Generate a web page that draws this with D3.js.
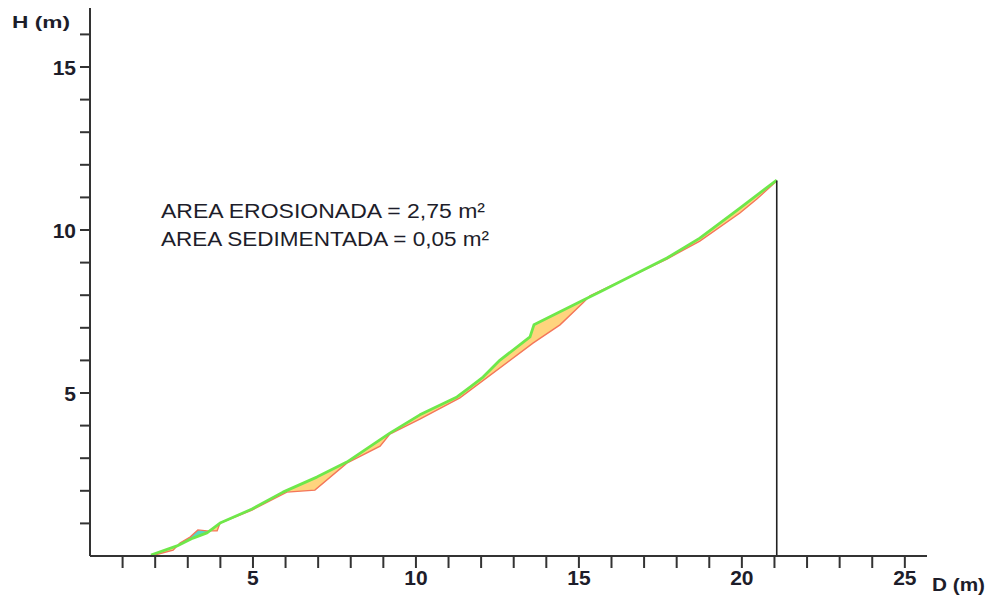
<!DOCTYPE html>
<html>
<head>
<meta charset="utf-8">
<script src="https://cdn.jsdelivr.net/npm/d3@7"></script>
<style>
  html, body { margin: 0; padding: 0; background: #fff; }
  svg { display: block; }
  text { font-family: "Liberation Sans", Arial, sans-serif; }
</style>
</head>
<body>
<svg id="chart" width="993" height="598"></svg>
<script>
// Original terrain profile (green)
const origD = [1.87, 2.67, 3.16, 3.59, 3.99, 4.97, 5.92, 6.96, 7.88, 9.20, 10.12, 11.26, 11.66, 12.06, 12.58, 13.50, 13.62, 15.25, 15.64, 17.70, 18.71, 19.94, 21.07];
const origH = [0.03, 0.31, 0.55, 0.71, 1.01, 1.44, 1.96, 2.42, 2.88, 3.77, 4.33, 4.88, 5.18, 5.49, 6.01, 6.72, 7.09, 7.91, 8.10, 9.14, 9.75, 10.67, 11.53];
// Eroded profile (red)
const erodD = [1.87, 2.55, 2.76, 3.07, 3.31, 3.59, 3.90, 3.99, 4.97, 6.04, 6.90, 7.88, 8.90, 9.20, 10.12, 11.35, 13.59, 14.42, 15.12, 15.34, 17.70, 18.71, 19.94, 20.46, 21.07];
const erodH = [0.00, 0.18, 0.40, 0.58, 0.80, 0.77, 0.77, 1.01, 1.41, 1.96, 2.02, 2.85, 3.37, 3.74, 4.20, 4.85, 6.53, 7.09, 7.76, 7.98, 9.11, 9.66, 10.52, 10.95, 11.50];
const endD = 21.07;
const endH = 11.52;

const xTickValues = [1,2,3,4,5,6,7,8,9,10,11,12,13,14,15,16,17,18,19,20,21,22,23,24,25];
const xTickLabels = [5, 10, 15, 20, 25];
const yTickValues = [1,2,3,4,5,6,7,8,9,10,11,12,13,14,15,16];
const yTickLabels = [5, 10, 15];
const annotation = ["AREA EROSIONADA = 2,75 m²", "AREA SEDIMENTADA = 0,05 m²"];
const annotationWidths = [324, 328];
const xTitle = "D (m)";
const yTitle = "H (m)";

const svg = d3.select("#chart");
const x = d3.scaleLinear().domain([0, 25.68]).range([90, 927]);
const y = d3.scaleLinear().domain([0, 16.81]).range([556, 8]);

const orig = origD.map((d, i) => [d, origH[i]]);
const erod = erodD.map((d, i) => [d, erodH[i]]);

const defs = svg.append("defs");
defs.append("clipPath").attr("id", "aboveErod")
  .append("path")
  .attr("d", d3.area().x(p => x(p[0])).y0(0).y1(p => y(p[1]))(erod));
defs.append("clipPath").attr("id", "aboveOrig")
  .append("path")
  .attr("d", d3.area().x(p => x(p[0])).y0(0).y1(p => y(p[1]))(orig));

// Erosion: under original, above eroded
svg.append("path")
  .attr("d", d3.area().x(p => x(p[0])).y0(y(0)).y1(p => y(p[1]))(orig))
  .attr("fill", "#ffd47e")
  .attr("clip-path", "url(#aboveErod)");
// Sedimentation: under eroded, above original
svg.append("path")
  .attr("d", d3.area().x(p => x(p[0])).y0(y(0)).y1(p => y(p[1]))(erod))
  .attr("fill", "#58d6c6")
  .attr("clip-path", "url(#aboveOrig)");

const line = d3.line().x(p => x(p[0])).y(p => y(p[1]));
svg.append("path").attr("d", line(erod))
  .attr("fill", "none").attr("stroke", "#f4765a").attr("stroke-width", 1.4);
svg.append("path").attr("d", line(orig))
  .attr("fill", "none").attr("stroke", "#6ee84a").attr("stroke-width", 2.8)
  .attr("stroke-linejoin", "round");

// Vertical end line
svg.append("line")
  .attr("x1", x(endD)).attr("x2", x(endD))
  .attr("y1", y(0)).attr("y2", y(endH))
  .attr("stroke", "#222").attr("stroke-width", 1.6);

// Axes
const axisColor = "#333";
svg.append("line").attr("x1", x(0)).attr("x2", x(0)).attr("y1", 8).attr("y2", y(0))
  .attr("stroke", axisColor).attr("stroke-width", 2);
svg.append("line").attr("x1", x(0)).attr("x2", 927).attr("y1", y(0)).attr("y2", y(0))
  .attr("stroke", axisColor).attr("stroke-width", 2);

svg.selectAll(".xtick").data(xTickValues).enter().append("line")
  .attr("x1", d => x(d)).attr("x2", d => x(d))
  .attr("y1", y(0)).attr("y2", y(0) + 12)
  .attr("stroke", axisColor).attr("stroke-width", 2);
svg.selectAll(".ytick").data(yTickValues).enter().append("line")
  .attr("x1", x(0) - 10).attr("x2", x(0))
  .attr("y1", d => y(d)).attr("y2", d => y(d))
  .attr("stroke", axisColor).attr("stroke-width", 2);

svg.selectAll(".xlab").data(xTickLabels).enter().append("text")
  .attr("x", d => x(d)).attr("y", 585)
  .attr("text-anchor", "middle")
  .attr("font-size", 21).attr("font-weight", "bold").attr("fill", "#1d1d2a")
  .text(d => d);
svg.selectAll(".ylab").data(yTickLabels).enter().append("text")
  .attr("x", 76).attr("y", d => y(d) + 7.5)
  .attr("text-anchor", "end")
  .attr("font-size", 21).attr("font-weight", "bold").attr("fill", "#1d1d2a")
  .text(d => d);

svg.append("text").attr("x", 12).attr("y", 28)
  .attr("font-size", 17).attr("font-weight", "bold").attr("fill", "#1d1d2a")
  .attr("textLength", 58).attr("lengthAdjust", "spacingAndGlyphs")
  .text(yTitle);
svg.append("text").attr("x", 932).attr("y", 591)
  .attr("font-size", 19).attr("font-weight", "bold").attr("fill", "#1d1d2a")
  .attr("textLength", 53).attr("lengthAdjust", "spacingAndGlyphs")
  .text(xTitle);

svg.selectAll(".ann").data(annotation).enter().append("text")
  .attr("x", 161).attr("y", (d, i) => 218 + i * 28)
  .attr("font-size", 20).attr("fill", "#1d1d2a")
  .attr("textLength", (d, i) => annotationWidths[i])
  .attr("lengthAdjust", "spacingAndGlyphs")
  .text(d => d);
</script>
</body>
</html>
